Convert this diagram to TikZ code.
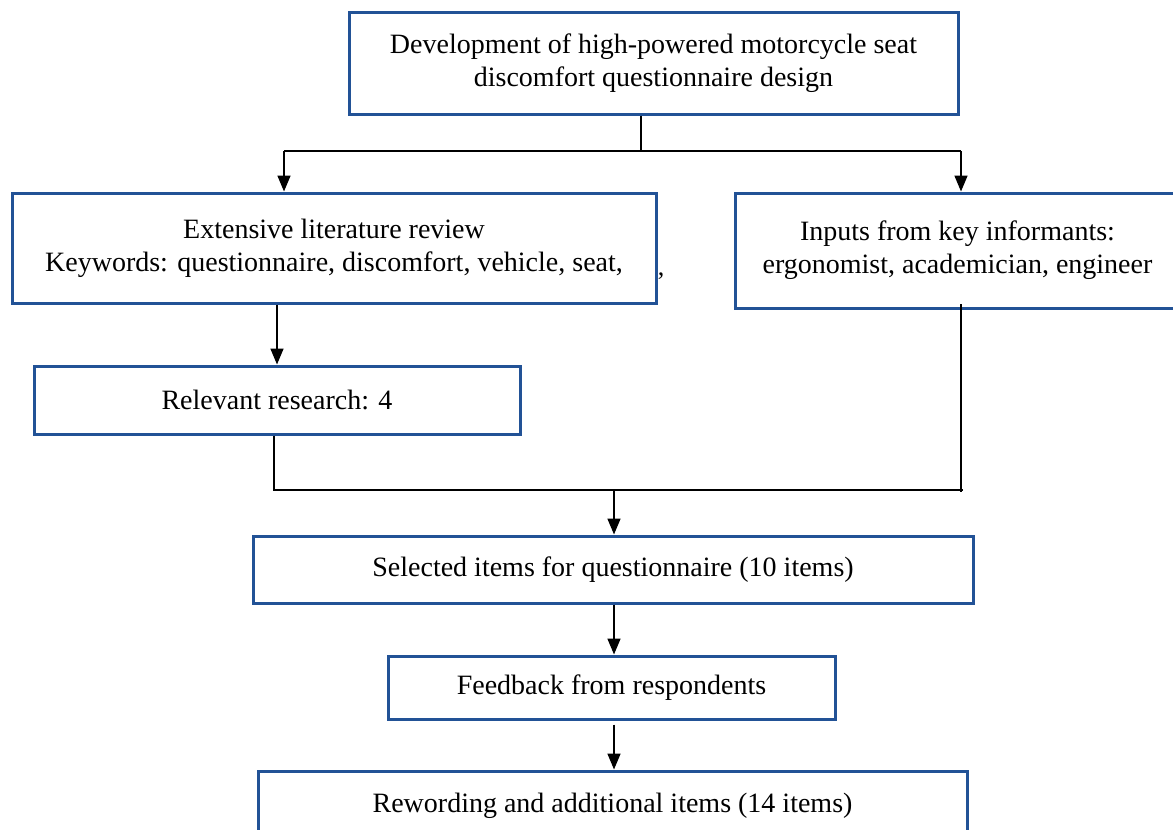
\documentclass[tikz,border=0pt]{standalone}
\usepackage{fontspec}
\setmainfont{Liberation Serif}
\usetikzlibrary{arrows.meta}
\definecolor{boxblue}{RGB}{34,82,150}
\tikzset{
  fbox/.style={draw=boxblue, line width=1.5pt, rectangle, align=center, inner sep=0pt,
    font=\fontsize{14}{16.5}\selectfont, text=black},
  conn/.style={draw=black, line width=0.8pt},
  arr/.style={conn, -{Triangle[length=8pt,width=6.5pt]}}
}
\begin{document}
\begin{tikzpicture}[x=0.5pt,y=-0.5pt]
\useasboundingbox (0,0) rectangle (1173,830);
% boxes
\node[fbox, minimum width=304.5pt, minimum height=51pt] (top) at (653.5,63)
  {Development of high-powered motorcycle seat\\discomfort questionnaire design};
\node[fbox, minimum width=322pt, minimum height=55pt] (lit) at (334,248)
  {Extensive literature review\\Keywords: questionnaire, discomfort, vehicle, seat,};
\node[fbox, minimum width=222.5pt, minimum height=57.5pt] (inp) at (957.5,250.5)
  {Inputs from key informants:\\ergonomist, academician, engineer};
\node[fbox, minimum width=243pt, minimum height=34pt] (rel) at (277,400)
  {Relevant research: 4};
\node[fbox, minimum width=360pt, minimum height=33.5pt] (sel) at (613,569.5)
  {Selected items for questionnaire (10 items)};
\node[fbox, minimum width=223.5pt, minimum height=31.5pt] (fb) at (611.5,687.5)
  {Feedback from respondents};
\node[fbox, minimum width=354.5pt, minimum height=35pt] (rew) at (612.5,806)
  {Rewording and additional items (14 items)};
\node[font=\fontsize{13}{15}\selectfont, inner sep=0pt] (cm) at (661,276) {,};
% junction coordinates
\coordinate (jt) at (641,151);
\coordinate (jtl) at (284,151);
\coordinate (jtr) at (961,151);
\coordinate (jbl) at (274,490);
\coordinate (jbr) at (961,490);
\coordinate (jbe) at (963,490);
\coordinate (jbm) at (614,490);
\coordinate (rtop) at (961,304);
% connectors
\draw[conn] (top.south -| jt) -- (jt);
\draw[conn] (jtl) -- (jtr);
\draw[arr] (jtl) -- (lit.north -| jtl);
\draw[arr] (jtr) -- (inp.north -| jtr);
\draw[arr] (lit.south -| 277,0) -- (rel.north -| 277,0);
\draw[conn] (rel.south -| jbl) -- (jbl) -- (jbe);
\draw[conn] (rtop) -- (961,492);
\draw[arr] (jbm) -- (sel.north -| jbm);
\draw[arr] (sel.south -| jbm) -- (fb.north -| jbm);
\draw[arr] ([yshift=-2pt]fb.south -| jbm) -- (rew.north -| jbm);
\end{tikzpicture}
\end{document}
